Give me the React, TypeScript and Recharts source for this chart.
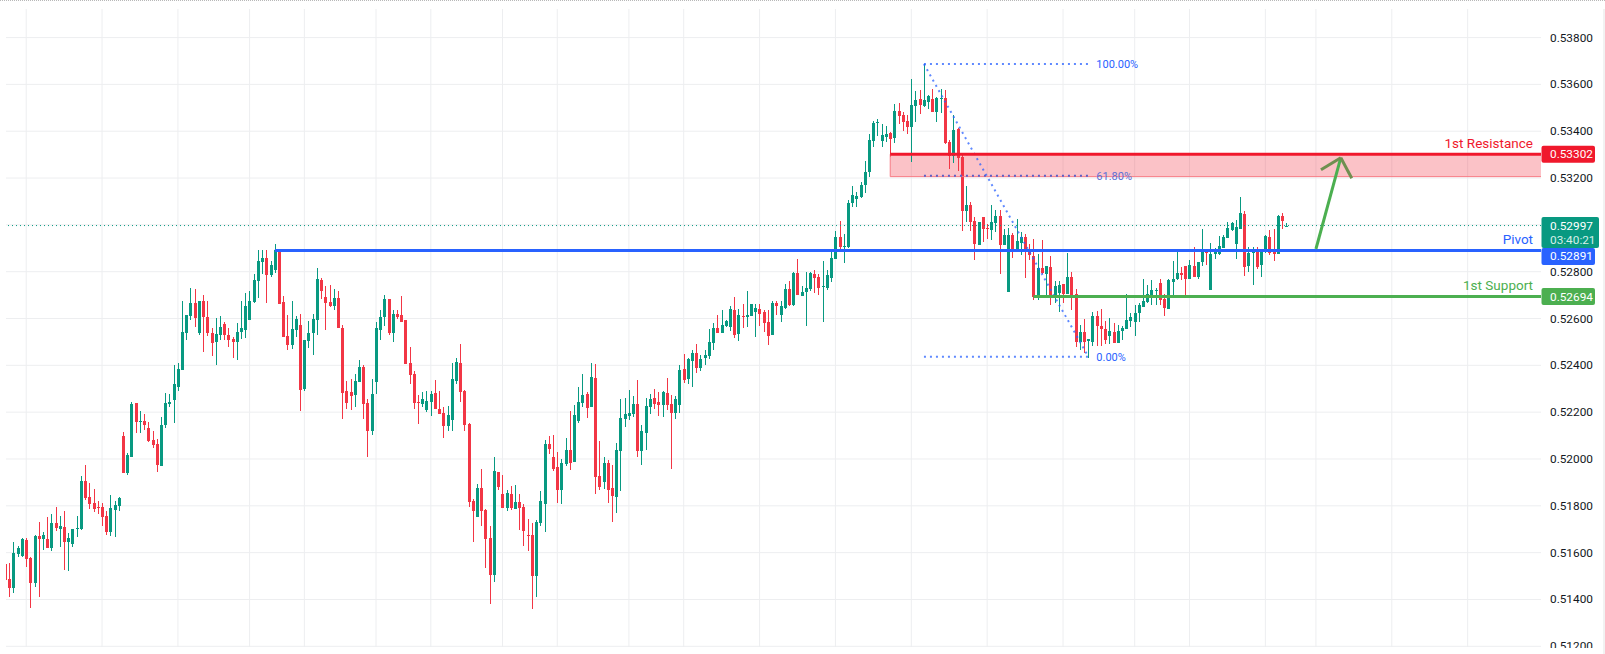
import { ComposedChart, Bar, XAxis, YAxis, CartesianGrid, ReferenceLine, ReferenceArea, ReferenceDot } from 'recharts'

// prices in points (1/100000)
const opens = [
  51552,51488,51449,51595,51586,51654,51578,51471,51672,51659,
  51659,51620,51727,51701,51710,51646,51637,51701,51701,51907,
  51838,51813,51795,51795,51757,51689,51783,51800,52099,51941,
  52009,52240,52157,52163,52133,52082,52065,51971,52146,52235,
  52252,52307,52380,52538,52611,52666,52538,52675,52606,52538,
  52500,52529,52576,52529,52512,52500,52542,52551,52594,52670,
  52760,52841,52858,52786,52807,52888,52670,52525,52487,52551,
  52572,52299,52504,52538,52594,52764,52692,52670,52653,52688,
  52559,52290,52286,52273,52329,52393,52239,52119,52329,52551,
  52606,52683,52538,52619,52616,52594,52411,52364,52244,52236,
  52210,52244,52283,52214,52197,52142,52167,52334,52411,52291,
  52150,51821,51753,51877,51783,51663,51505,51945,51851,51791,
  51851,51787,51817,51796,51676,51676,51501,51727,51808,52065,
  52009,51966,51868,51979,52039,51988,52163,52239,52277,52222,
  52346,51927,51902,51983,51876,51837,52034,52171,52183,52192,
  52235,52034,52111,52222,52260,52243,52230,52282,52235,52196,
  52230,52384,52341,52418,52453,52388,52431,52440,52495,52559,
  52538,52568,52564,52636,52534,52611,52606,52611,52628,52641,
  52628,52585,52529,52666,52615,52645,52726,52658,52794,52696,
  52713,52726,52790,52777,52735,52730,52773,52854,52948,52905,
  52905,53093,53110,53119,53170,53226,53358,53435,53358,53375,
  53392,53371,53486,53469,53444,53418,53508,53538,53508,53525,
  53538,53482,53538,53542,53354,53294,53410,53290,53059,53085,
  53016,52914,53034,52987,52978,53008,53038,52914,52713,52957,
  52888,52923,52948,52893,52867,52696,52816,52790,52820,52696,
  52709,52747,52705,52777,52705,52500,52542,52504,52500,52611,
  52568,52555,52525,52542,52495,52547,52555,52589,52585,52624,
  52649,52671,52688,52718,52752,52683,52641,52756,52769,52794,
  52824,52769,52824,52777,52841,52888,52722,52876,52876,52901,
  52944,52978,52918,52982,53046,52824,52880,52897,52829,52884,
  52948,52884,52876,53038,52995,
]
const closes = [
  51484,51449,51599,51620,51659,51573,51471,51672,51659,51676,
  51620,51727,51706,51714,51646,51663,51701,51706,51907,51834,
  51808,51787,51791,51753,51689,51791,51804,51834,51941,52018,
  52235,52159,52161,52146,52077,52060,51975,52146,52240,52244,
  52320,52384,52542,52615,52666,52602,52675,52606,52538,52495,
  52534,52564,52529,52508,52500,52542,52559,52653,52675,52764,
  52846,52858,52786,52828,52893,52662,52521,52487,52555,52598,
  52294,52508,52538,52598,52769,52717,52666,52653,52688,52559,
  52282,52239,52269,52333,52393,52235,52119,52277,52559,52606,
  52683,52538,52619,52606,52586,52406,52359,52240,52240,52257,
  52248,52278,52214,52193,52142,52189,52342,52415,52287,52146,
  51817,51778,51877,51778,51659,51505,51949,51881,51791,51855,
  51791,51817,51791,51693,51672,51501,51731,51821,52065,52043,
  51958,51868,51984,52039,51984,52189,52244,52273,52218,52350,
  51923,51880,51983,51867,51842,52038,52175,52192,52196,52235,
  52034,52119,52226,52256,52235,52230,52286,52230,52196,52256,
  52380,52337,52427,52453,52388,52427,52444,52500,52559,52538,
  52572,52589,52641,52529,52615,52606,52615,52662,52645,52619,
  52581,52525,52666,52653,52653,52726,52658,52794,52700,52713,
  52730,52794,52773,52730,52739,52786,52858,52948,52905,52910,
  53093,53128,53123,53170,53226,53363,53435,53439,53384,53388,
  53367,53486,53465,53439,53418,53512,53533,53512,53533,53550,
  53482,53542,53542,53350,53294,53405,53286,53059,53085,53012,
  52918,53012,52982,52982,53012,53038,52914,52957,52957,52897,
  52931,52948,52893,52871,52693,52816,52794,52824,52696,52739,
  52743,52705,52777,52696,52500,52542,52500,52512,52611,52568,
  52555,52508,52547,52495,52547,52559,52594,52606,52624,52658,
  52675,52705,52722,52722,52679,52645,52765,52769,52794,52786,
  52769,52829,52777,52841,52884,52880,52876,52884,52910,52948,
  52987,53008,52991,53051,52820,52880,52884,52820,52888,52952,
  52880,52876,53038,53017,52997,
]
const highs = [
  51552,51556,51646,51629,51663,51663,51582,51676,51731,51689,
  51753,51766,51795,51757,51778,51684,51701,51757,51928,51975,
  51898,51872,51821,51813,51778,51847,51821,51838,52116,52026,
  52244,52240,52206,52193,52159,52120,52086,52180,52282,52278,
  52401,52410,52675,52615,52730,52726,52675,52700,52675,52559,
  52602,52611,52585,52559,52521,52581,52675,52709,52717,52790,
  52893,52893,52893,52846,52918,52893,52696,52615,52675,52611,
  52619,52508,52589,52619,52816,52773,52739,52743,52726,52717,
  52572,52333,52341,52363,52423,52401,52256,52341,52585,52636,
  52700,52683,52636,52636,52697,52594,52479,52377,52274,52287,
  52291,52291,52338,52291,52223,52227,52411,52432,52492,52295,
  52154,51830,51894,51958,51787,51714,52009,51945,51932,51868,
  51885,51890,51851,51808,51744,51727,51740,51864,52082,52099,
  52103,52031,52001,52090,52206,52231,52308,52363,52286,52410,
  52406,52077,52008,51996,51974,52068,52256,52260,52294,52269,
  52337,52145,52260,52277,52299,52286,52290,52346,52273,52269,
  52401,52448,52431,52465,52491,52444,52465,52555,52581,52615,
  52636,52594,52653,52692,52641,52662,52717,52662,52662,52662,
  52636,52636,52675,52675,52675,52747,52760,52799,52854,52739,
  52799,52799,52807,52790,52846,52807,52893,52974,53016,52961,
  53106,53166,53140,53183,53273,53388,53444,53452,53431,53422,
  53397,53516,53521,53482,53469,53623,53572,53576,53687,53555,
  53580,53546,53580,53576,53363,53469,53414,53303,53166,53098,
  53034,53012,53034,53004,53085,53063,53063,52982,52987,52965,
  53025,52970,52961,52918,52940,52876,52935,52824,52867,52760,
  52760,52747,52880,52799,52726,52572,52598,52512,52628,52632,
  52641,52589,52602,52581,52572,52568,52705,52624,52658,52666,
  52769,52743,52765,52730,52769,52705,52769,52846,52884,52820,
  52824,52850,52906,52841,52982,52888,52923,52901,52952,52957,
  53012,53012,53021,53119,53059,52906,52906,52906,52888,52957,
  52978,52982,53042,53051,53008,
]
const lows = [
  51484,51411,51428,51582,51582,51539,51364,51454,51411,51612,
  51620,51607,51693,51625,51526,51522,51625,51667,51697,51825,
  51787,51774,51766,51714,51676,51672,51667,51778,51941,51932,
  52009,52112,52112,52124,52073,52048,51945,51971,52133,52223,
  52154,52290,52380,52508,52594,52564,52529,52457,52525,52440,
  52401,52508,52508,52478,52431,52423,52512,52517,52594,52666,
  52688,52790,52666,52777,52794,52662,52521,52465,52470,52521,
  52205,52290,52474,52444,52529,52683,52551,52649,52636,52559,
  52171,52213,52209,52222,52329,52171,52008,52102,52277,52508,
  52568,52529,52500,52598,52586,52406,52321,52214,52150,52223,
  52201,52184,52214,52193,52090,52120,52120,52321,52244,52120,
  51796,51646,51753,51714,51535,51380,51475,51868,51791,51778,
  51783,51787,51697,51629,51608,51360,51411,51714,51689,52022,
  51949,51813,51808,51971,51954,51988,52154,52222,52175,52222,
  51850,51867,51872,51812,51731,51769,51863,52136,52166,52179,
  52008,51974,52038,52192,52213,52183,52179,52209,51957,52171,
  52196,52324,52320,52307,52367,52376,52401,52427,52465,52538,
  52538,52564,52547,52517,52504,52559,52564,52611,52521,52568,
  52542,52487,52529,52615,52585,52641,52653,52653,52700,52696,
  52568,52717,52709,52700,52585,52722,52756,52854,52893,52837,
  52901,53076,53076,53115,53136,53204,53333,53380,53333,53354,
  53291,53350,53431,53401,53388,53269,53439,53474,53504,53495,
  53482,53439,53478,53345,53239,53264,53230,52974,53012,52974,
  52850,52914,52927,52940,52935,52970,52790,52914,52713,52858,
  52888,52871,52773,52850,52679,52679,52790,52700,52658,52666,
  52628,52666,52705,52636,52478,52465,52453,52431,52483,52483,
  52483,52491,52491,52495,52495,52508,52555,52564,52525,52585,
  52649,52666,52658,52658,52658,52611,52641,52696,52765,52765,
  52700,52769,52777,52769,52824,52829,52722,52854,52871,52901,
  52944,52974,52854,52982,52782,52799,52743,52812,52777,52880,
  52871,52846,52876,52982,52989,
]

const priceTicks = [0.538, 0.536, 0.534, 0.532, 0.528, 0.526, 0.524, 0.522, 0.52, 0.518, 0.516, 0.514, 0.512]
const gridPrices = [0.538, 0.536, 0.534, 0.532, 0.53, 0.528, 0.526, 0.524, 0.522, 0.52, 0.518, 0.516, 0.514, 0.512]
const gridBars = [5, 23, 41, 58, 71, 88, 101, 118, 131, 148, 161, 179, 197, 215, 233, 251, 268, 281, 299, 311, 329, 347]

const RESISTANCE = 0.53302
const ZONE_LOW = 0.53206
const PIVOT = 0.52891
const SUPPORT = 0.52694
const LAST = 0.52997
const FIB_HIGH = 0.53687
const FIB_MID = 0.5321
const FIB_LOW = 0.52437

const GREEN = '#089981'
const RED = '#f23645'
const FONT = 'Roboto, sans-serif'
const TICK_SIZE = 11.8
const X_MIN = 0.21
const X_MAX = 364.4

const candles = opens.map((open, i) => ({
  i,
  open: open / 100000,
  close: closes[i] / 100000,
  high: highs[i] / 100000,
  low: lows[i] / 100000,
}))

function Candle(props: any) {
  const { x, y, width, height, payload } = props
  const cx = Math.round(x + width / 2 - 0.5)
  const top = Math.min(y, y + height)
  const h = Math.abs(height)
  const perUnit = h / (payload.high - payload.low || 1)
  const bodyTop = top + (payload.high - Math.max(payload.open, payload.close)) * perUnit
  const bodyH = Math.max(1, Math.abs(payload.open - payload.close) * perUnit)
  const color = payload.close >= payload.open ? GREEN : RED
  return (
    <g shapeRendering="crispEdges">
      <rect x={cx} y={top} width={1} height={h} fill={color} />
      <rect x={cx - 1} y={bodyTop} width={3} height={bodyH} fill={color} />
    </g>
  )
}

const tags: Record<string, { color: string; dy: number }> = {
  '0.53302': { color: '#f0182c', dy: 0 },
  '0.52891': { color: '#2962ff', dy: 6 },
  '0.52694': { color: '#4caf50', dy: 0 },
}

function PriceTick(props: any) {
  const { y, payload } = props
  const value = Number(payload.value).toFixed(5)
  if (value === LAST.toFixed(5)) {
    return (
      <g fontFamily={FONT} fontSize={TICK_SIZE}>
        <rect x={1541.5} y={y - 8.5} width={57.5} height={31} rx={2} fill={GREEN} />
        <text x={1550} y={y + 4} fill="#ffffff">{value}</text>
        <text x={1550} y={y + 18} fill="#d5efe9">03:40:21</text>
      </g>
    )
  }
  const tag = tags[value]
  if (tag) {
    return (
      <g fontFamily={FONT} fontSize={TICK_SIZE}>
        <rect x={1541.5} y={y + tag.dy - 8.5} width={53.5} height={17} rx={2} fill={tag.color} />
        <text x={1550} y={y + tag.dy + 4} fill="#ffffff">{value}</text>
      </g>
    )
  }
  return (
    <text x={1550} y={y + 4} fontFamily={FONT} fontSize={TICK_SIZE} fill="#131722">{value}</text>
  )
}

const lineLabel = (value: string, fill: string) => ({
  value,
  fill,
  position: 'insideBottomRight' as const,
  offset: 8,
  dy: 1.5,
  fontSize: 13.5,
  fontFamily: FONT,
})

const fibLabel = (value: string, fill: string) => ({
  value,
  fill,
  position: 'right' as const,
  offset: 8,
  fontSize: 11,
  fontFamily: FONT,
})

export default function App() {
  return (
    <div style={{ position: 'absolute', left: 0, top: 0, width: 1605, height: 654, background: '#fff', overflow: 'hidden' }}>
      <div style={{ position: 'absolute', left: 0, top: 0, width: 1605, borderTop: '1px dotted #b8b8b8' }} />
      <div style={{ position: 'absolute', left: 1603, top: 9, height: 645, borderLeft: '2px solid #f2f2f2' }} />
      <ComposedChart
        width={1605}
        height={648}
        data={candles}
        margin={{ top: 9, right: 0, left: 6, bottom: 1 }}
      >
        <CartesianGrid
          stroke="#edeef0"
          strokeWidth={1}
          horizontalValues={gridPrices}
          verticalValues={gridBars}
        />
        <XAxis type="number" dataKey="i" domain={[X_MIN, X_MAX]} allowDataOverflow hide />
        <YAxis
          orientation="right"
          width={64}
          domain={[0.51197, 0.53922]}
          allowDataOverflow
          ticks={[...priceTicks, RESISTANCE, LAST, PIVOT, SUPPORT]}
          interval={0}
          axisLine={false}
          tickLine={false}
          tick={<PriceTick />}
        />
        <Bar
          dataKey={(d: any) => [d.low, d.high]}
          barSize={3}
          shape={<Candle />}
          isAnimationActive={false}
        />
        <ReferenceArea x1={210} x2={X_MAX} y1={ZONE_LOW} y2={RESISTANCE} fill="#f23645" fillOpacity={0.3} stroke="none" />
        <ReferenceLine segment={[{ x: 210, y: ZONE_LOW }, { x: X_MAX, y: ZONE_LOW }]} stroke="#f77c85" strokeWidth={1} />
        <ReferenceLine segment={[{ x: 210, y: ZONE_LOW }, { x: 210, y: RESISTANCE }]} stroke="#f77c85" strokeWidth={1} />
        <ReferenceLine y={LAST} stroke={GREEN} strokeWidth={1} strokeDasharray="1 3" />
        <ReferenceLine segment={[{ x: 218, y: FIB_HIGH }, { x: 257, y: FIB_HIGH }]} stroke="#2962ff" strokeOpacity={0.75} strokeWidth={2} strokeDasharray="2 4" />
        <ReferenceLine segment={[{ x: 218, y: FIB_MID }, { x: 257, y: FIB_MID }]} stroke="#5b5fc7" strokeWidth={2} strokeDasharray="2 4" />
        <ReferenceLine segment={[{ x: 218, y: FIB_LOW }, { x: 257, y: FIB_LOW }]} stroke="#2962ff" strokeOpacity={0.75} strokeWidth={2} strokeDasharray="2 4" />
        <ReferenceLine segment={[{ x: 218, y: FIB_HIGH }, { x: 257, y: FIB_LOW }]} stroke="#2962ff" strokeOpacity={0.75} strokeWidth={2} strokeDasharray="2 4" />
        <ReferenceDot x={257} y={FIB_HIGH} r={0} stroke="none" label={fibLabel('100.00%', '#2962ff')} />
        <ReferenceDot x={257} y={FIB_MID} r={0} stroke="none" label={fibLabel('61.80%', '#5b6fd6')} />
        <ReferenceDot x={257} y={FIB_LOW} r={0} stroke="none" label={fibLabel('0.00%', '#2962ff')} />
        <ReferenceLine segment={[{ x: 210, y: RESISTANCE }, { x: X_MAX, y: RESISTANCE }]} stroke="#f0182c" strokeWidth={3} label={lineLabel('1st Resistance', '#f0182c')} />
        <ReferenceLine segment={[{ x: 64, y: PIVOT }, { x: X_MAX, y: PIVOT }]} stroke="#2962ff" strokeWidth={3} label={lineLabel('Pivot', '#2962ff')} />
        <ReferenceLine segment={[{ x: 244, y: SUPPORT }, { x: X_MAX, y: SUPPORT }]} stroke="#4caf50" strokeWidth={3} label={lineLabel('1st Support', '#4caf50')} />
        <ReferenceLine segment={[{ x: 311, y: 0.52897 }, { x: 316.9, y: 0.53287 }]} stroke="#4caf50" strokeWidth={3} />
        <ReferenceLine segment={[{ x: 312.2, y: 0.53235 }, { x: 316.9, y: 0.53287 }]} stroke="#6f8f50" strokeWidth={3} />
        <ReferenceLine segment={[{ x: 319.5, y: 0.53199 }, { x: 316.9, y: 0.53287 }]} stroke="#6f8f50" strokeWidth={3} />
      </ComposedChart>
    </div>
  )
}
